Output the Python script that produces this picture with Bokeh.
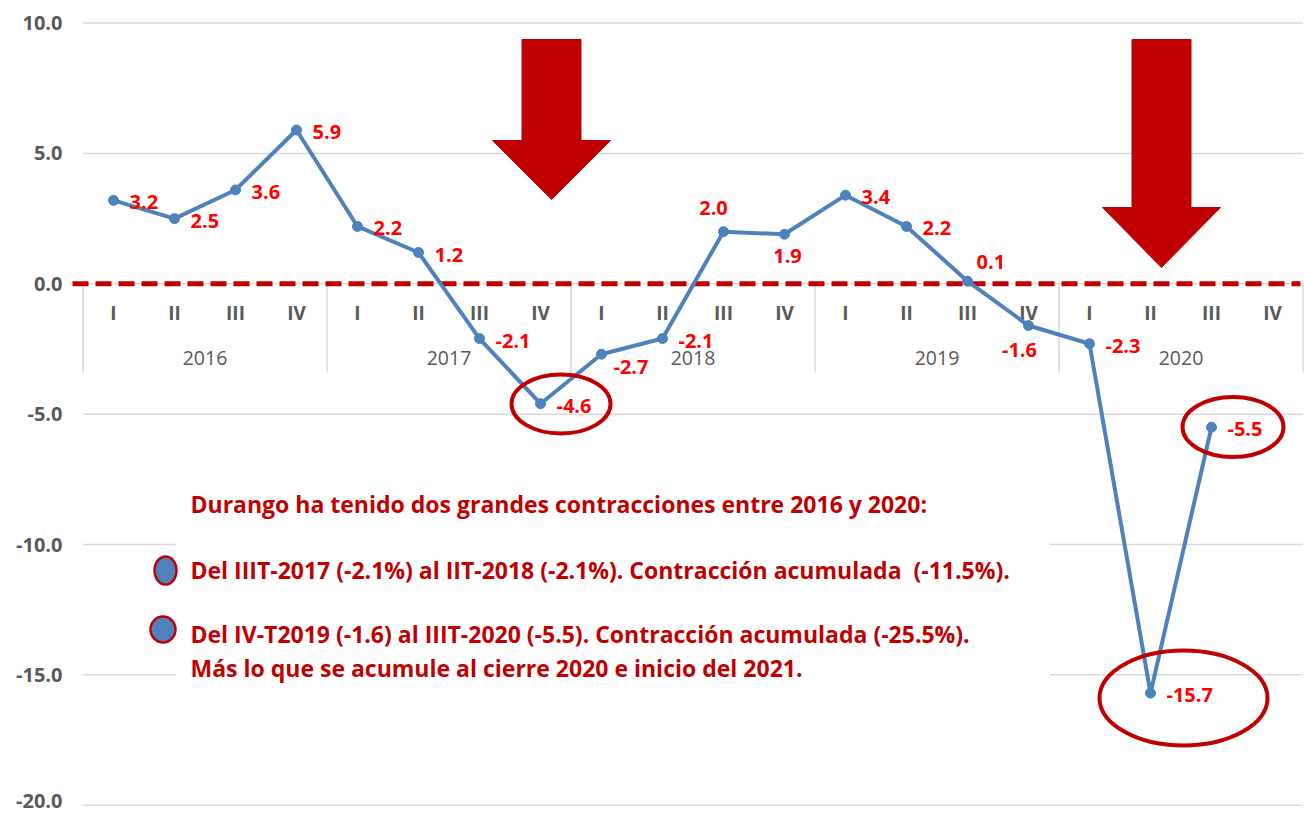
from bokeh.plotting import figure
from bokeh.models import ColumnDataSource, Range1d
from bokeh.core.properties import value
from bokeh.embed import file_html
from bokeh.resources import INLINE

# ---------------- data ----------------
years = ["2016", "2017", "2018", "2019", "2020"]
quarters = ["I", "II", "III", "IV"]
growth = [3.2, 2.5, 3.6, 5.9,
          2.2, 1.2, -2.1, -4.6,
          -2.7, -2.1, 2.0, 1.9,
          3.4, 2.2, 0.1, -1.6,
          -2.3, -15.7, -5.5]
y_ticks = [-20, -15, -10, -5, 0, 5, 10]

title_text = "Durango ha tenido dos grandes contracciones entre 2016 y 2020:"
note_lines = [
    "Del IIIT-2017 (-2.1%) al IIT-2018 (-2.1%). Contracción acumulada\u00a0\u00a0(-11.5%).",
    "Del IV-T2019 (-1.6) al IIIT-2020 (-5.5). Contracción acumulada (-25.5%).",
    "Más lo que se acumule al cierre 2020 e inicio del 2021.",
]

# ---------------- styles / label placement ----------------
FONT = "Open Sans"
BLUE = "#4F81BD"
DARKRED = "#C00000"
RED = "#FF0000"
GRAY = "#595959"
GRID = "#D9D9D9"

n = len(growth)
lab_align = ["left"] * n
lab_dx = [16] * n
lab_dy = [2] * n
special = {8: ("left", 12, 13), 10: ("center", -10, -24), 11: ("center", 3, 22),
           14: ("left", 9, -19), 15: ("center", -9, 24)}
for i, (a, ddx, ddy) in special.items():
    lab_align[i], lab_dx[i], lab_dy[i] = a, ddx, ddy

# pixel-to-data helpers for decorations (61 px per quarter, 26.07 px per unit)
def X(px):
    return (px - 113) / 61.0

def Y(py):
    return (283.3 - py) / 26.07

W, H = 1304, 813
nq = len(years) * len(quarters)

p = figure(width=W, height=H, output_backend="svg", toolbar_location=None,
           x_range=Range1d(X(0), X(W)), y_range=Range1d(Y(H), Y(0)),
           min_border_left=0, min_border_right=0, min_border_top=0, min_border_bottom=0)
p.outline_line_color = None
p.background_fill_color = "white"
p.xaxis.visible = False
p.yaxis.visible = False
p.xgrid.visible = False
p.ygrid.visible = False

# value-axis labels (last one nudged up so it is not cut at the page edge)
tick_dy = [-4 if t == min(y_ticks) else 0 for t in y_ticks]
p.text(x=[X(62)] * len(y_ticks), y=y_ticks, text=[f"{t:.1f}" for t in y_ticks], y_offset=tick_dy,
       text_align="right", text_baseline="middle", text_color=GRAY,
       text_font=value(FONT), text_font_style="bold", text_font_size="20px")

# gridlines
p.segment(x0=[-0.5] * len(y_ticks), x1=[nq - 0.5] * len(y_ticks), y0=y_ticks, y1=y_ticks,
          line_color=GRID, line_width=1.5)

# text box background (covers gridlines)
p.quad(left=X(175), right=X(1049), top=Y(462), bottom=Y(718), fill_color="white", line_color=None)

# category separators
seps = [k * len(quarters) - 0.5 for k in range(len(years) + 1)]
p.segment(x0=seps, x1=seps, y0=[0] * len(seps), y1=[Y(372)] * len(seps), line_color=GRID, line_width=1.5)

# quarter + year labels
p.text(x=list(range(nq)), y=[Y(312)] * nq, text=quarters * len(years),
       text_align="center", text_baseline="middle", text_color=GRAY,
       text_font=value(FONT), text_font_style="bold", text_font_size="19px")
p.text(x=[k * len(quarters) + 1.5 for k in range(len(years))], y=[Y(357)] * len(years), text=years,
       text_align="center", text_baseline="middle", text_color=GRAY,
       text_font=value(FONT), text_font_style="normal", text_font_size="19.5px")

# dashed zero line
p.segment(x0=[X(72)], x1=[X(1300)], y0=[0], y1=[0], line_color=DARKRED, line_width=5, line_dash="16 7")

# series
src = ColumnDataSource(dict(x=list(range(n)), y=growth, label=[f"{v:.1f}" for v in growth],
                            align=lab_align, dx=lab_dx, dy=lab_dy))
p.line("x", "y", source=src, line_color=BLUE, line_width=4)
p.scatter("x", "y", source=src, size=10, fill_color=BLUE, line_color=BLUE)
p.text("x", "y", text="label", source=src, text_align="align", x_offset="dx", y_offset="dy",
       text_baseline="middle", text_color=RED, text_font=value(FONT), text_font_style="bold",
       text_font_size="20px")

# arrows
def arrow(cx_px, top_px, head_px, tip_px, shaft_half=29.5, head_half=59):
    xs = [X(cx_px - shaft_half), X(cx_px + shaft_half), X(cx_px + shaft_half), X(cx_px + head_half),
          X(cx_px), X(cx_px - head_half), X(cx_px - shaft_half)]
    ys = [Y(top_px), Y(top_px), Y(head_px), Y(head_px), Y(tip_px), Y(head_px), Y(head_px)]
    return xs, ys

a1 = arrow(551, 39, 140, 199)
a2 = arrow(1161, 39, 207, 267)
p.patches(xs=[a1[0], a2[0]], ys=[a1[1], a2[1]], fill_color=DARKRED, line_color=DARKRED, line_width=1)

# ellipses around highlighted points
p.ellipse(x=[X(560.5), X(1232.5), X(1183)], y=[Y(403.5), Y(426.5), Y(697.5)],
          width=[99, 101, 168], height=[59, 60, 95], width_units="screen", height_units="screen",
          fill_color=None, line_color=DARKRED, line_width=4)

# bullets
p.ellipse(x=[X(165), X(162.5)], y=[Y(570), Y(629)], width=[22, 25], height=[28, 26],
          width_units="screen", height_units="screen",
          fill_color=BLUE, line_color=DARKRED, line_width=2.5)

# annotation text
p.text(x=[X(190)] * 4, y=[Y(503), Y(569), Y(633), Y(667)], text=[title_text] + note_lines,
       text_align="left", text_baseline="middle", text_color=DARKRED,
       text_font=value(FONT), text_font_style="bold", text_font_size="23px")

open("out.html", "w").write(file_html(p, INLINE))
